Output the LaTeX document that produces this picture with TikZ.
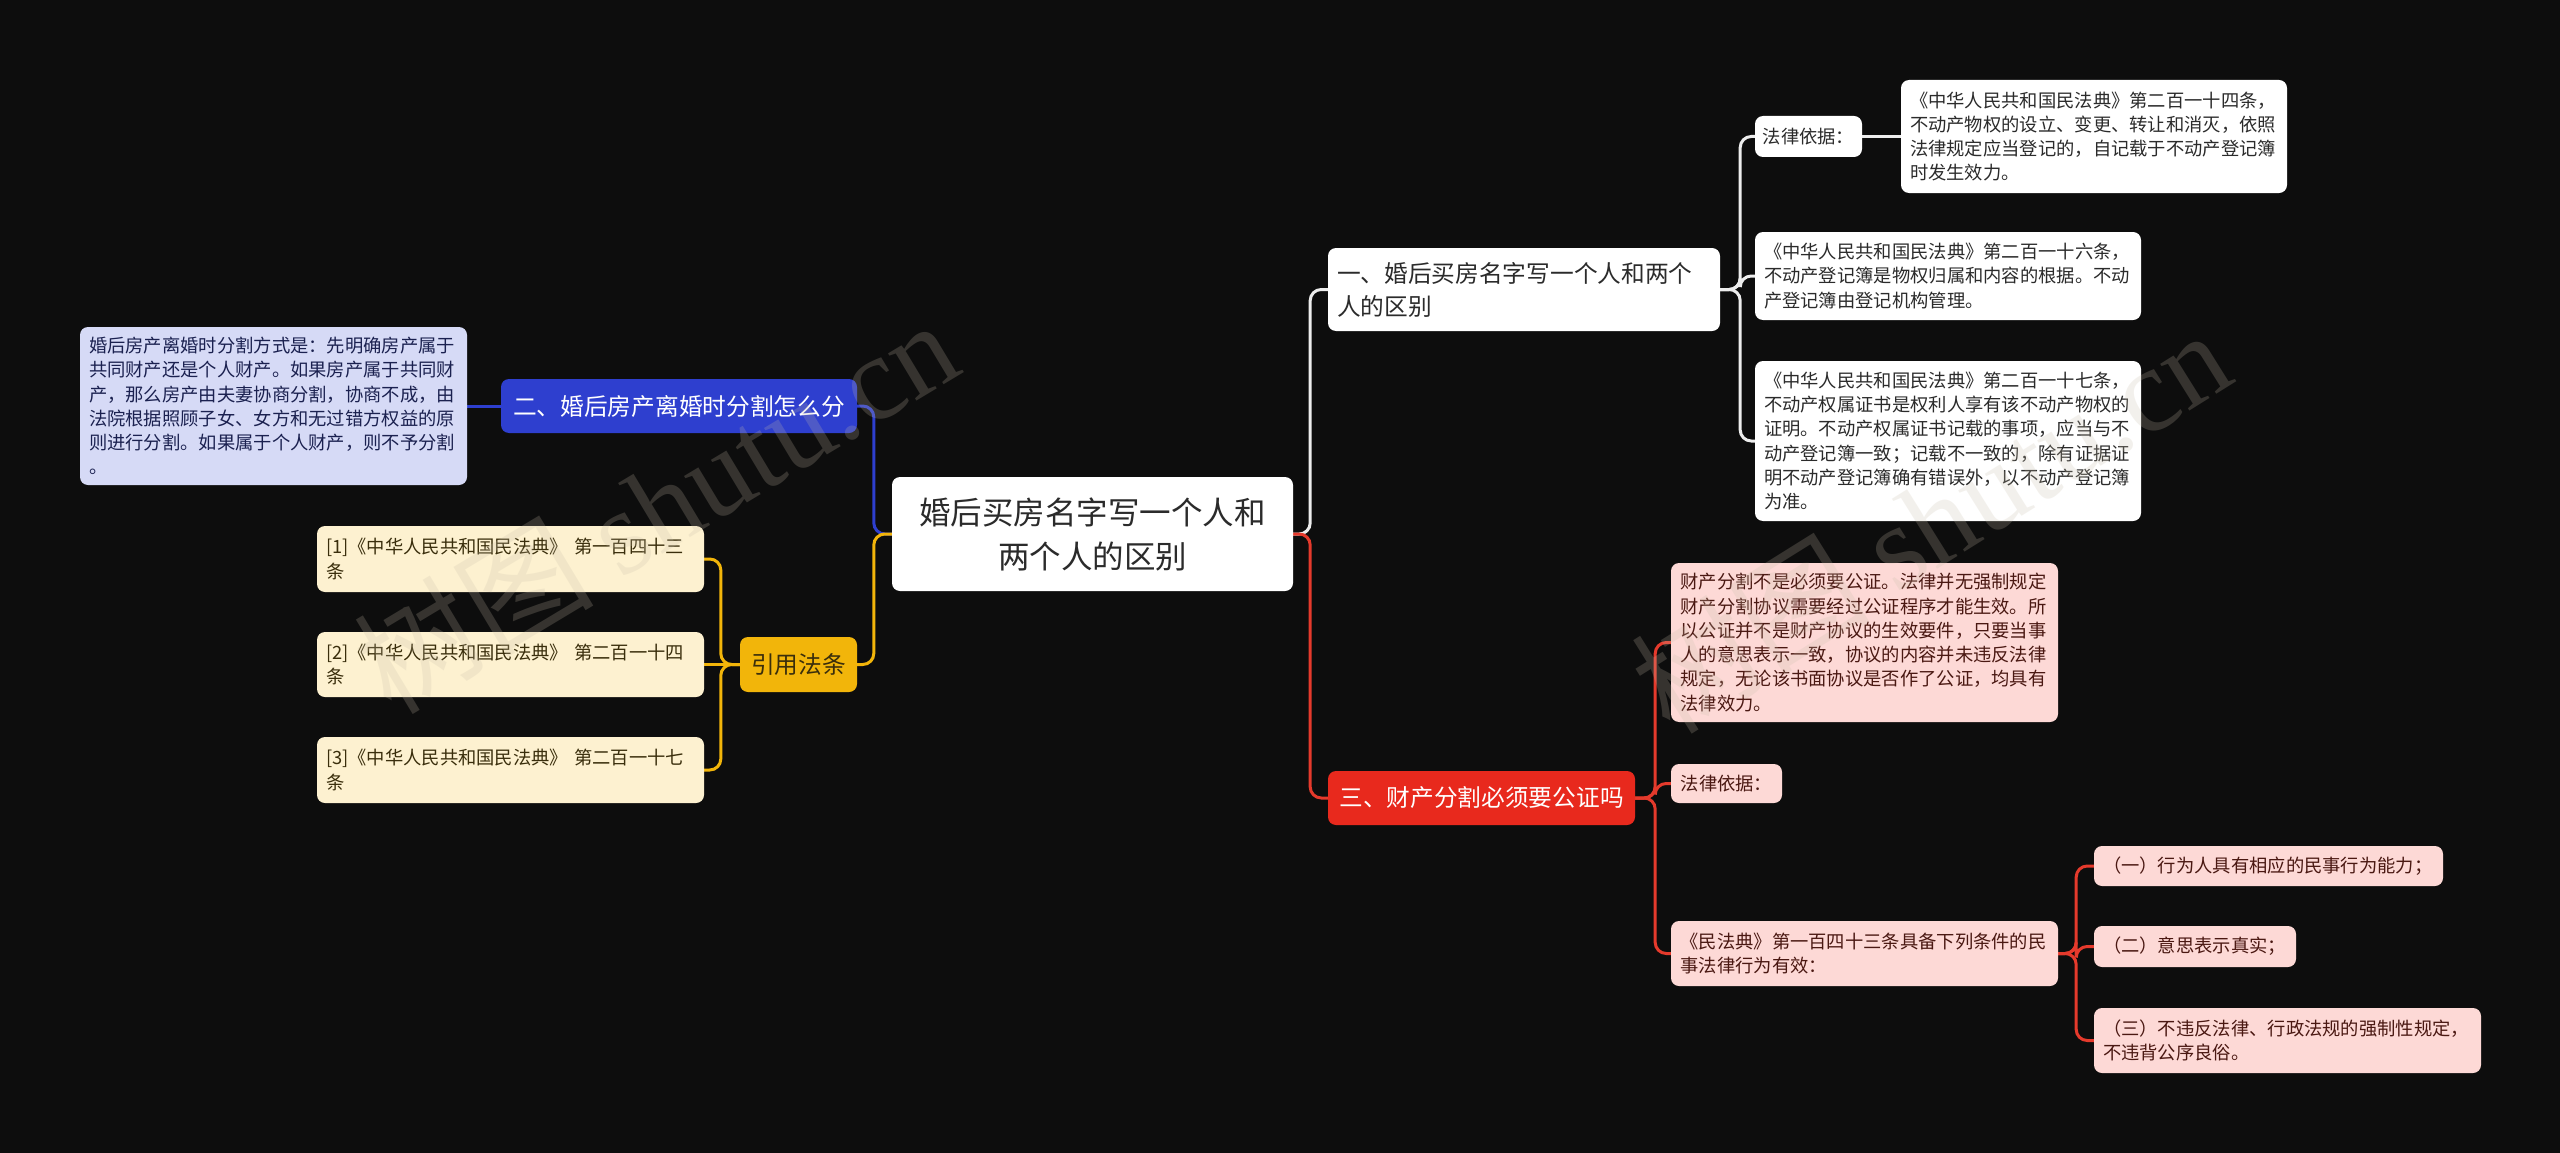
\documentclass[tikz,border=0pt]{standalone}
\usepackage{fontspec}
\setmainfont{Noto Sans CJK SC}
\newfontfamily\wmfont{Liberation Serif}
\definecolor{bgc}{HTML}{0D0D0D}
\definecolor{cblue}{HTML}{2E3FCF}
\definecolor{cred}{HTML}{E8291D}
\definecolor{cgold}{HTML}{F2B50A}
\definecolor{cpink}{HTML}{FDD9D6}
\definecolor{clav}{HTML}{D6DAF6}
\definecolor{ccream}{HTML}{FDF1D0}
\definecolor{ctext}{HTML}{2B2B2B}
\definecolor{cpinktext}{HTML}{4A1812}
\definecolor{clavtext}{HTML}{1B2150}
\definecolor{ccreamtext}{HTML}{3A2E0C}
\definecolor{cwline}{HTML}{EDEDED}
\definecolor{crline}{HTML}{E53A2C}
\definecolor{cwm}{RGB}{200,190,170}
\pgfdeclarelayer{back}
\pgfdeclarelayer{lines}
\pgfsetlayers{back,lines,main}
\tikzset{
  box/.style={rounded corners=8pt, inner sep=0pt, anchor=center},
  leaf/.style={box, font=\fontsize{18.3}{24.3}\selectfont, align=left},
  whitebox/.style={leaf, fill=white, text=ctext},
  pinkbox/.style={leaf, fill=cpink, text=cpinktext},
  lavbox/.style={leaf, fill=clav, text=clavtext},
  creambox/.style={leaf, fill=ccream, text=ccreamtext},
  branch/.style={box, font=\fontsize{23.7}{33}\selectfont},
  conn/.style={line width=3pt, rounded corners=11pt},
  wline/.style={conn, draw=cwline},
  rline/.style={conn, draw=crline},
  bline/.style={conn, draw=cblue},
  yline/.style={conn, draw=cgold},
  wmark/.style={text=cwm, opacity=0.22, inner sep=0pt},
}
\begin{document}
\begin{tikzpicture}[x=1pt,y=-1pt]
\useasboundingbox (0,0) rectangle (2560,1153);
\begin{pgfonlayer}{back}
\fill[bgc] (0,0) rectangle (2560,1153);
\end{pgfonlayer}

% central
\node[box, fill=white, text=ctext, font=\fontsize{31.5}{44}\selectfont, align=center,
  minimum width=401pt, minimum height=114pt] (C) at (1092.5,534)
  {婚后买房名字写一个人和\\两个人的区别};

% right upper branch
\node[branch, fill=white, text=ctext, align=left, text width=374pt,
  minimum width=392pt, minimum height=83pt] (B1) at (1524,289.5)
  {一、婚后买房名字写一个人和两个\\人的区别};
\node[whitebox, align=center, minimum width=107pt, minimum height=41pt] (L1a) at (1808.5,136.5) {法律依据：};
\node[whitebox, text width=368pt, minimum width=386pt, minimum height=113pt] (L1b) at (2094,136.5)
  {《中华人民共和国民法典》第二百一十四条，\\不动产物权的设立、变更、转让和消灭，依照\\法律规定应当登记的，自记载于不动产登记簿\\时发生效力。};
\node[whitebox, text width=368pt, minimum width=386pt, minimum height=88pt] (L1c) at (1948,276)
  {《中华人民共和国民法典》第二百一十六条，\\不动产登记簿是物权归属和内容的根据。不动\\产登记簿由登记机构管理。};
\node[whitebox, text width=368pt, minimum width=386pt, minimum height=160pt] (L1d) at (1948,441)
  {《中华人民共和国民法典》第二百一十七条，\\不动产权属证书是权利人享有该不动产物权的\\证明。不动产权属证书记载的事项，应当与不\\动产登记簿一致；记载不一致的，除有证据证\\明不动产登记簿确有错误外，以不动产登记簿\\为准。};

% right lower branch
\node[branch, fill=cred, text=white, minimum width=307pt, minimum height=54pt] (B3) at (1481.5,798)
  {三、财产分割必须要公证吗};
\node[pinkbox, text width=368pt, minimum width=387pt, minimum height=159pt] (L3a) at (1864.5,642.5)
  {财产分割不是必须要公证。法律并无强制规定\\财产分割协议需要经过公证程序才能生效。所\\以公证并不是财产协议的生效要件，只要当事\\人的意思表示一致，协议的内容并未违反法律\\规定，无论该书面协议是否作了公证，均具有\\法律效力。};
\node[pinkbox, align=center, minimum width=111pt, minimum height=39pt] (L3b) at (1726.5,783.5) {法律依据：};
\node[pinkbox, text width=368pt, minimum width=387pt, minimum height=65pt] (L3c) at (1864.5,953.5)
  {《民法典》第一百四十三条具备下列条件的民\\事法律行为有效：};
\node[pinkbox, text width=331pt, minimum width=349pt, minimum height=40pt] (L3d) at (2268.5,866)
  {（一）行为人具有相应的民事行为能力；};
\node[pinkbox, text width=184pt, minimum width=202pt, minimum height=41pt] (L3e) at (2195,946.5)
  {（二）意思表示真实；};
\node[pinkbox, text width=369pt, minimum width=387pt, minimum height=65pt] (L3f) at (2287.5,1040.5)
  {（三）不违反法律、行政法规的强制性规定，\\不违背公序良俗。};

% left branches
\node[branch, fill=cblue, text=white, minimum width=356pt, minimum height=54pt] (B2) at (679,406)
  {二、婚后房产离婚时分割怎么分};
\node[lavbox, text width=369pt, minimum width=387pt, minimum height=158pt] (L2a) at (273.5,406)
  {婚后房产离婚时分割方式是：先明确房产属于\\共同财产还是个人财产。如果房产属于共同财\\产，那么房产由夫妻协商分割，协商不成，由\\法院根据照顾子女、女方和无过错方权益的原\\则进行分割。如果属于个人财产，则不予分割\\。};
\node[branch, fill=cgold, text=ccreamtext, minimum width=117pt, minimum height=55pt] (Y) at (798.5,664.5)
  {引用法条};
\node[creambox, text width=369pt, minimum width=387pt, minimum height=66pt] (R1) at (510.5,559)
  {[1]《中华人民共和国民法典》 第一百四十三\\条};
\node[creambox, text width=369pt, minimum width=387pt, minimum height=65pt] (R2) at (510.5,664.5)
  {[2]《中华人民共和国民法典》 第二百一十四\\条};
\node[creambox, text width=369pt, minimum width=387pt, minimum height=66pt] (R3) at (510.5,770)
  {[3]《中华人民共和国民法典》 第二百一十七\\条};

% connectors
\begin{pgfonlayer}{lines}
\draw[wline] (C.east) -- ([xshift=17pt]C.east) |- (B1.west);
\draw[rline] (C.east) -- ([xshift=17pt]C.east) |- (B3.west);
\draw[bline] (C.west) -- ([xshift=-18pt]C.west) |- (B2.east);
\draw[yline] (C.west) -- ([xshift=-18pt]C.west) |- (Y.east);

\draw[wline] (B1.east) -- ([xshift=20pt]B1.east) |- (L1a.west);
\draw[wline] (B1.east) -- ([xshift=20pt]B1.east) |- (L1c.west);
\draw[wline] (B1.east) -- ([xshift=20pt]B1.east) |- (L1d.west);
\draw[wline] (L1a.east) -- (L1b.west);

\draw[rline] (B3.east) -- ([xshift=20pt]B3.east) |- (L3a.west);
\draw[rline] (B3.east) -- ([xshift=20pt]B3.east) |- (L3b.west);
\draw[rline] (B3.east) -- ([xshift=20pt]B3.east) |- (L3c.west);
\draw[rline] (L3c.east) -- ([xshift=18pt]L3c.east) |- (L3d.west);
\draw[rline] (L3c.east) -- ([xshift=18pt]L3c.east) |- (L3e.west);
\draw[rline] (L3c.east) -- ([xshift=18pt]L3c.east) |- (L3f.west);

\draw[bline] (B2.west) -- (L2a.east);
\draw[yline] (Y.west) -- ([xshift=-19pt]Y.west) |- (R1.east);
\draw[yline] (Y.west) -- (R2.east);
\draw[yline] (Y.west) -- ([xshift=-19pt]Y.west) |- (R3.east);
\end{pgfonlayer}

% watermarks
\node[wmark, rotate=31, font=\fontsize{120}{120}\selectfont] (W1) at (655,505) {树图 {\wmfont shutu.cn}};
\node[wmark, rotate=32, font=\fontsize{120}{120}\selectfont] (W2) at (1930,520) {树图 {\wmfont shutu.cn}};
\end{tikzpicture}
\end{document}
